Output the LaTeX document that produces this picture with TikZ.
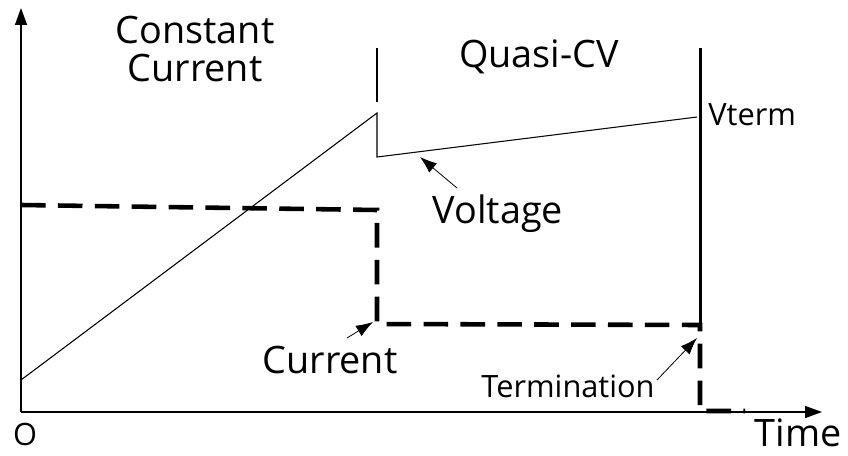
\documentclass[tikz,border=0pt]{standalone}
\usepackage{fontspec}
\setmainfont{Open Sans}
\usetikzlibrary{arrows.meta}
\tikzset{
  big/.style={font=\fontsize{21.5}{22}\selectfont, align=center, inner sep=0pt},
  small/.style={font=\fontsize{17.5}{18}\selectfont, inner sep=0pt},
  axis/.style={line width=0.85pt, -{Triangle[length=3.4mm,width=2.4mm]}},
  pointer/.style={line width=0.45pt, -{Latex[length=3.4mm,width=2.4mm]}},
  current/.style={line width=2.6pt, dash pattern=on 14pt off 7pt},
}
\begin{document}
\begin{tikzpicture}[x=0.02cm,y=-0.02cm]
  \useasboundingbox (0,0) rectangle (848,456);
  % key points
  \coordinate (O) at (21,412);
  \coordinate (ytop) at (21,8);
  \coordinate (xend) at (822,412);
  \coordinate (v0) at (21,380);
  \coordinate (v1) at (377,113);
  \coordinate (v2) at (377,157);
  \coordinate (v3) at (697,117);
  \coordinate (i0) at (21,205);
  \coordinate (i1) at (377,210);
  \coordinate (i2) at (377,324);
  \coordinate (i3) at (700,325);
  \coordinate (i4) at (700,411);
  \coordinate (i5) at (745,411);
  % labels
  \node[big, anchor=base] (cc) at (195,82) {Constant\\Current};
  \node[big, anchor=base] (qcv) at (539,68) {Quasi-CV};
  \node[small, anchor=base west] (vterm) at (708,126) {Vterm};
  \node[big, anchor=base] (volt) at (498,223) {Voltage};
  \node[big, anchor=base] (curr) at (330,373) {Current};
  \node[small, anchor=base] (term) at (568,397) {Termination};
  \node[big, anchor=base east] (time) at (842,446) {Time};
  \node[small, anchor=base] (orig) at (25,445) {O};
  % axes
  \draw[axis] (O) -- (ytop);
  \draw[axis] (O) -- (xend);
  % phase marks
  \draw[line width=0.85pt] (377,48) coordinate (m0) -- (377,102) coordinate (m1);
  \draw[line width=1.7pt] (700,48) coordinate (m2) -- (i3);
  % voltage and current
  \draw[line width=0.6pt] (v0) -- (v1) -- (v2) -- (v3);
  \draw[current] (i0) -- (i1) -- (i2) -- (i3) -- (i4) -- (i5);
  % pointers
  \coordinate (pv) at (457,188);
  \coordinate (pv') at (420,157);
  \coordinate (pc) at (347,338);
  \coordinate (pc') at (373,322);
  \coordinate (pt) at (657,380);
  \coordinate (pt') at (697,338);
  \draw[pointer] (pv) -- (pv');
  \draw[pointer] (pc) -- (pc');
  \draw[pointer] (pt) -- (pt');
\end{tikzpicture}
\end{document}
